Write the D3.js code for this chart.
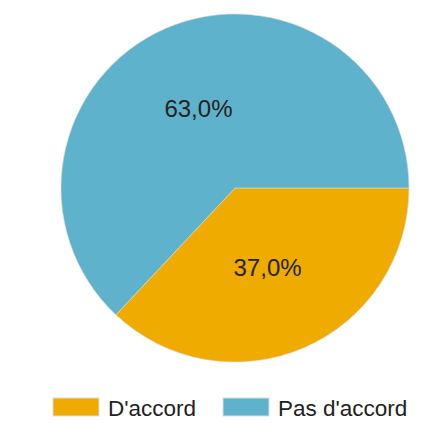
<!DOCTYPE html>
<html>
<head>
<meta charset="utf-8">
<script src="https://cdn.jsdelivr.net/npm/d3@7"></script>
<style>
	body { margin: 0; background: #fff; }
	text { font-family: "Liberation Sans", Arial, sans-serif; }
</style>
</head>
<body>
<div id="chart"></div>
<script>
// Pie chart: D'accord / Pas d'accord

const categories = ["D'accord", "Pas d'accord"];
const values = [37.0, 63.0];
const colors = ['#efab00', '#5fb2cb'];

const width = 439;
const height = 436;
const centerX = 235;
const centerY = 188;
const radius = 174;

const svg = d3.select('#chart')
	.append('svg')
	.attr('width', width)
	.attr('height', height);

const g = svg.append('g')
	.attr('transform', `translate(${centerX}, ${centerY})`);

const data = categories.map((c, i) => ({ category: c, value: values[i] }));

const color = d3.scaleOrdinal()
	.domain(categories)
	.range(colors);

// first slice starts at 3 o'clock, clockwise
const pie = d3.pie()
	.value(d => d.value)
	.sort(null)
	.startAngle(Math.PI / 2)
	.endAngle(Math.PI / 2 + 2 * Math.PI);

const arc = d3.arc()
	.innerRadius(0)
	.outerRadius(radius);

const total = d3.sum(values);
const fmt = v => (v / total * 100).toFixed(1).replace('.', ',') + '%';

const slices = g.selectAll('.slice')
	.data(pie(data))
	.enter()
	.append('g')
	.attr('class', 'slice');

slices.append('path')
	.attr('d', arc)
	.attr('fill', d => color(d.data.category))
	.attr('stroke', '#d9d9d9')
	.attr('stroke-width', 0.6);

slices.append('text')
	.attr('transform', d => {
		const [x, y] = arc.centroid(d);
		return `translate(${x - 2}, ${y})`;
	})
	.attr('text-anchor', 'middle')
	.attr('dy', '0.36em')
	.attr('fill', '#222')
	.style('font-size', '24px')
	.text(d => fmt(d.data.value));

// legend
const legend = svg.append('g')
	.attr('transform', 'translate(53, 398)');

const offsets = [0, 170];
const legendItem = legend.selectAll('.legendItem')
	.data(categories)
	.enter()
	.append('g')
	.attr('class', 'legendItem')
	.attr('transform', (d, i) => `translate(${offsets[i]}, 0)`);

legendItem.append('rect')
	.attr('width', 46)
	.attr('height', 18)
	.attr('fill', d => color(d))
	.attr('stroke', '#ddd')
	.attr('stroke-width', 1);

legendItem.append('text')
	.attr('x', 55)
	.attr('y', 18)
	.attr('fill', '#222')
	.style('font-size', '22.5px')
	.text(d => d);
</script>
</body>
</html>
